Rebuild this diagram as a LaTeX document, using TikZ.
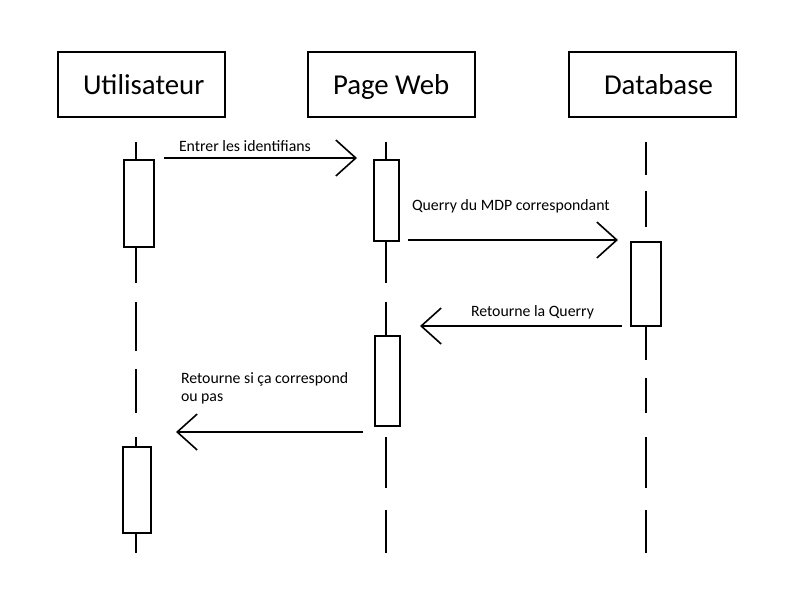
\documentclass[tikz,border=0pt]{standalone}
\usepackage{fontspec}
\setmainfont{Carlito}
\usetikzlibrary{arrows.meta}
\begin{document}
\begin{tikzpicture}[x=1pt,y=-1pt,
  every path/.style={line width=2pt},
  actor/.style={draw=black,line width=2pt,minimum width=167pt,minimum height=65pt,inner sep=0pt},
  actbox/.style={draw=black,line width=2pt,fill=white,inner sep=0pt},
  big/.style={font=\fontsize{28.8}{34}\selectfont,anchor=base west,inner sep=0pt},
  small/.style={font=\fontsize{15.8}{19}\selectfont,anchor=base west,inner sep=0pt,align=left},
  msg/.style={line width=1.6pt,-{Straight Barb[length=20pt,width=36pt,line width=1.6pt]}},
  life/.style={line width=1.6pt}
]
\useasboundingbox (0,0) rectangle (800,600);
% actors
\node[actor] (U) at (141.5,84.5) {};
\node[actor] (P) at (391.5,84.5) {};
\node[actor] (D) at (652,84.5) {};
\node[big] (Ut) at (82,94) {Utilisateur};
\node[big] (Pt) at (332,94) {Page Web};
\node[big] (Dt) at (603,94) {Database};
% lifelines
\foreach \a/\b in {142/160,247/283,302/351,369/413,437/447,533/553}
  \draw[life] (136,\a) -- (136,\b);
\foreach \a/\b in {142/160,241/283,302/336,437/488,510/553}
  \draw[life] (386,\a) -- (386,\b);
\foreach \a/\b in {142/175,191/227,326/360,378/413,437/488,510/553}
  \draw[life] (646,\a) -- (646,\b);
% activation boxes
\node[actbox,minimum width=30pt,minimum height=87pt] (U1) at (139,203.5) {};
\node[actbox,minimum width=28pt,minimum height=86pt] (U2) at (137,490) {};
\node[actbox,minimum width=25pt,minimum height=81pt] (P1) at (386.5,200.5) {};
\node[actbox,minimum width=25pt,minimum height=90pt] (P2) at (387.5,381) {};
\node[actbox,minimum width=30pt,minimum height=84pt] (D1) at (646,284) {};
% message endpoints
\coordinate (m1s) at (164,158);
\coordinate (m1e) at (357,158);
\coordinate (m2s) at (408,240);
\coordinate (m2e) at (618,240);
\coordinate (m3s) at (622,326);
\coordinate (m3e) at (420,326);
\coordinate (m4s) at (363,432);
\coordinate (m4e) at (176,432);
\draw[msg] (m1s) -- (m1e);
\draw[msg] (m2s) -- (m2e);
\draw[msg] (m3s) -- (m3e);
\draw[msg] (m4s) -- (m4e);
% labels
\node[small] (l1) at (178,151) {Entrer les identifians};
\node[small] (l2) at (411,210) {Querry du MDP correspondant};
\node[small] (l3) at (470,316) {Retourne la Querry};
\node[small] (l4a) at (180,383) {Retourne si ça correspond};
\node[small] (l4b) at (180,401) {ou pas};
\end{tikzpicture}
\end{document}
